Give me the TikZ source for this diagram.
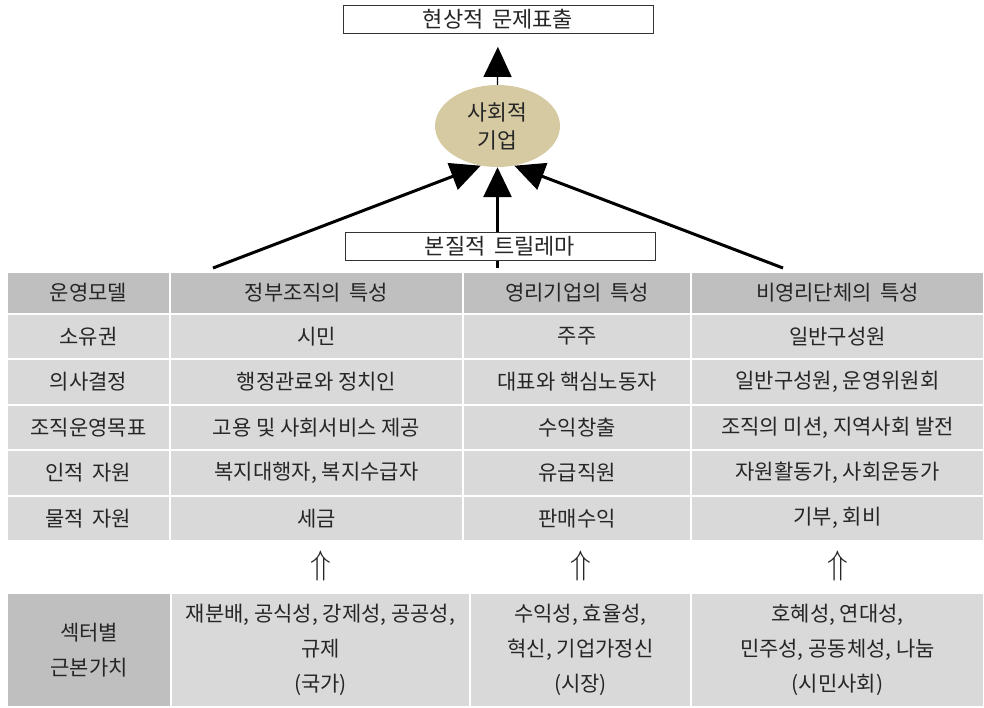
\RequirePackage{fix-cm}
\documentclass[tikz,border=0pt]{standalone}
\usepackage{fontspec}
\setmainfont{Noto Sans CJK KR}
\usetikzlibrary{arrows.meta,shapes.geometric}
\definecolor{headgray}{RGB}{191,191,191}
\definecolor{bodygray}{RGB}{217,217,217}
\definecolor{enttan}{RGB}{214,202,163}
\begin{document}
\begin{tikzpicture}[x=1pt,y=-1pt,>={Triangle[width=28pt,length=30pt]},
  every node/.style={font=\fontsize{21}{24}\selectfont,text=black!85},
  labelbox/.style={draw=black!80,line width=0.8pt,fill=white,minimum width=310pt,minimum height=28pt,inner sep=0pt},
  cell/.style={draw=white,line width=2pt,fill=bodygray,inner sep=0pt,minimum height=45.4pt},
  head/.style={cell,fill=headgray,minimum height=42pt},
  wA/.style={minimum width=163pt},
  wB/.style={minimum width=293pt},
  wC/.style={minimum width=228pt},
  wD/.style={minimum width=293pt},
  valcell/.style={cell,minimum height=114pt,align=center,font=\fontsize{21}{35}\selectfont},
  uparr/.style={font=\fontsize{34}{36}\selectfont}]
\useasboundingbox (0,0) rectangle (984,707);

\node[labelbox,font=\fontsize{22}{24}\selectfont] (problem) at (498,19.5) {현상적\hspace{0.4em}문제표출};
\node[ellipse,fill=enttan,minimum width=125pt,minimum height=82pt,inner sep=0pt,align=center,font=\fontsize{21.5}{28}\selectfont] (socent) at (497.5,126) {사회적\\기업};

\coordinate (govtop) at (213,268);
\coordinate (firmtop) at (497.5,268);
\coordinate (npotop) at (783,268);

\draw[->,line width=1.3pt,shorten >=13pt] (socent.north) -- (problem.south);
\draw[->,line width=3pt] (govtop) -- (socent.247);
\draw[->,line width=3pt] (npotop) -- (socent.293);
\draw[->,line width=3pt] (firmtop) -- (socent.south);

\node[labelbox,font=\fontsize{22}{24}\selectfont] (trilemma) at (500,246) {본질적\hspace{0.4em}트릴레마};

\node[head,wA] (h1) at (88.5,293) {운영모델};
\node[head,wB] (h2) at (316.5,293) {정부조직의\hspace{0.4em}특성};
\node[head,wC] (h3) at (577,293) {영리기업의\hspace{0.4em}특성};
\node[head,wD] (h4) at (837.5,293) {비영리단체의\hspace{0.4em}특성};

\node[cell,wA] (a1) at (88.5,336.7) {소유권};
\node[cell,wB] (b1) at (316.5,336.7) {시민};
\node[cell,wC] (c1) at (577,336.7) {주주};
\node[cell,wD] (d1) at (837.5,336.7) {일반구성원};

\node[cell,wA] (a2) at (88.5,382.1) {의사결정};
\node[cell,wB] (b2) at (316.5,382.1) {행정관료와 정치인};
\node[cell,wC] (c2) at (577,382.1) {대표와 핵심노동자};
\node[cell,wD] (d2) at (837.5,382.1) {일반구성원, 운영위원회};

\node[cell,wA] (a3) at (88.5,427.5) {조직운영목표};
\node[cell,wB] (b3) at (316.5,427.5) {고용 및 사회서비스 제공};
\node[cell,wC] (c3) at (577,427.5) {수익창출};
\node[cell,wD] (d3) at (837.5,427.5) {조직의 미션, 지역사회 발전};

\node[cell,wA] (a4) at (88.5,472.9) {인적\hspace{0.4em}자원};
\node[cell,wB] (b4) at (316.5,472.9) {복지대행자, 복지수급자};
\node[cell,wC] (c4) at (577,472.9) {유급직원};
\node[cell,wD] (d4) at (837.5,472.9) {자원활동가, 사회운동가};

\node[cell,wA] (a5) at (88.5,518.3) {물적\hspace{0.4em}자원};
\node[cell,wB] (b5) at (316.5,518.3) {세금};
\node[cell,wC] (c5) at (577,518.3) {판매수익};
\node[cell,wD] (d5) at (837.5,518.3) {기부, 회비};

\node[uparr] (govup) at (320.5,566) {$\Uparrow$};
\node[uparr] (firmup) at (580.5,566) {$\Uparrow$};
\node[uparr] (npoup) at (837.5,566) {$\Uparrow$};

\node[valcell,fill=headgray,minimum width=164pt] (v1) at (89,650) {섹터별\\근본가치};
\node[valcell,minimum width=299pt] (v2) at (320.5,650) {재분배, 공식성, 강제성, 공공성,\\규제\\(국가)};
\node[valcell,minimum width=221pt] (v3) at (580.5,650) {수익성, 효율성,\\혁신, 기업가정신\\(시장)};
\node[valcell,minimum width=293pt] (v4) at (837.5,650) {호혜성, 연대성,\\민주성, 공동체성, 나눔\\(시민사회)};
\end{tikzpicture}
\end{document}
